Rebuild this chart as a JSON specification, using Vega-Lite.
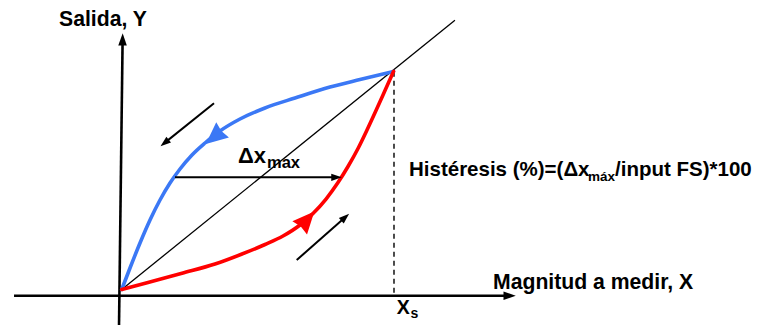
{
  "$schema": "https://vega.github.io/schema/vega-lite/v6.json",
  "width": 765,
  "height": 326,
  "padding": 0,
  "autosize": {"type": "none"},
  "background": "white",
  "config": {"view": {"stroke": null}},
  "datasets": {
    "paths": [
      {"id": "axisX", "o": 0, "x": -0.3962, "y": -0.0284},
      {"id": "axisX", "o": 1, "x": 1.4272, "y": -0.0284},
      {"id": "axisY", "o": 0, "x": -0.0099, "y": -0.1628},
      {"id": "axisY", "o": 1, "x": 0.0033, "y": 1.1472},
      {"id": "diag", "o": 0, "x": 0, "y": 0},
      {"id": "diag", "o": 1, "x": 1.226, "y": 1.235},
      {"id": "xs", "o": 0, "x": 1.0018, "y": 0.9991},
      {"id": "xs", "o": 1, "x": 1.0018, "y": -0.0284},
      {"id": "blue", "o": 0, "x": 0, "y": 0},
      {"id": "blue", "o": 1, "x": 0.0305, "y": 0.0986},
      {"id": "blue", "o": 2, "x": 0.0673, "y": 0.2133},
      {"id": "blue", "o": 3, "x": 0.1041, "y": 0.3188},
      {"id": "blue", "o": 4, "x": 0.1409, "y": 0.4106},
      {"id": "blue", "o": 5, "x": 0.1777, "y": 0.4885},
      {"id": "blue", "o": 6, "x": 0.2145, "y": 0.5528},
      {"id": "blue", "o": 7, "x": 0.2586, "y": 0.617},
      {"id": "blue", "o": 8, "x": 0.3065, "y": 0.672},
      {"id": "blue", "o": 9, "x": 0.3617, "y": 0.7271},
      {"id": "blue", "o": 10, "x": 0.4352, "y": 0.7821},
      {"id": "blue", "o": 11, "x": 0.5272, "y": 0.8326},
      {"id": "blue", "o": 12, "x": 0.6376, "y": 0.8784},
      {"id": "blue", "o": 13, "x": 0.7664, "y": 0.9289},
      {"id": "blue", "o": 14, "x": 0.8767, "y": 0.9633},
      {"id": "blue", "o": 15, "x": 1, "y": 1},
      {"id": "red", "o": 0, "x": 0, "y": 0},
      {"id": "red", "o": 1, "x": 0.0968, "y": 0.0326},
      {"id": "red", "o": 2, "x": 0.2219, "y": 0.0748},
      {"id": "red", "o": 3, "x": 0.3433, "y": 0.117},
      {"id": "red", "o": 4, "x": 0.4426, "y": 0.1628},
      {"id": "red", "o": 5, "x": 0.5272, "y": 0.2064},
      {"id": "red", "o": 6, "x": 0.5935, "y": 0.2454},
      {"id": "red", "o": 7, "x": 0.656, "y": 0.2959},
      {"id": "red", "o": 8, "x": 0.7038, "y": 0.3486},
      {"id": "red", "o": 9, "x": 0.7517, "y": 0.4151},
      {"id": "red", "o": 10, "x": 0.7958, "y": 0.4908},
      {"id": "red", "o": 11, "x": 0.8326, "y": 0.5642},
      {"id": "red", "o": 12, "x": 0.8694, "y": 0.6468},
      {"id": "red", "o": 13, "x": 0.9025, "y": 0.7317},
      {"id": "red", "o": 14, "x": 0.9356, "y": 0.8211},
      {"id": "red", "o": 15, "x": 0.9687, "y": 0.9128},
      {"id": "red", "o": 16, "x": 1, "y": 1},
      {"id": "dx", "o": 0, "x": 0.1961, "y": 0.5147},
      {"id": "dx", "o": 1, "x": 0.7903, "y": 0.5147},
      {"id": "down", "o": 0, "x": 0.3396, "y": 0.8541},
      {"id": "down", "o": 1, "x": 0.1578, "y": 0.6725},
      {"id": "up", "o": 0, "x": 0.6439, "y": 0.1353},
      {"id": "up", "o": 1, "x": 0.8223, "y": 0.3312}
    ],
    "heads": [
      {"kind": "blue", "x": 0.3403, "y": 0.7, "dir": 230},
      {"kind": "red", "x": 0.6818, "y": 0.3202, "dir": 42},
      {"kind": "small", "x": 0.1578, "y": 0.6725, "dir": 231.3},
      {"kind": "small", "x": 0.8223, "y": 0.3312, "dir": 48.6},
      {"kind": "small", "x": 0.7903, "y": 0.5147, "dir": 90},
      {"kind": "axis", "x": 1.4272, "y": -0.0284, "dir": 90},
      {"kind": "axis", "x": 0.0033, "y": 1.1472, "dir": 0.7}
    ],
    "labels": [
      {"role": "axis", "text": "Salida, Y", "x": -0.2307, "y": 1.2087},
      {"role": "axis", "text": "Magnitud a medir, X", "x": 1.3661, "y": 0.0009},
      {"role": "formula", "text": "Histéresis (%)=(Δx", "x": 1.057, "y": 0.5206},
      {"role": "formulaSub", "text": "máx", "x": 1.7156, "y": 0.4977},
      {"role": "formula", "text": "/input FS)*100", "x": 1.8149, "y": 0.5206},
      {"role": "delta", "text": "Δx", "x": 0.4279, "y": 0.5803},
      {"role": "deltaSub", "text": "max", "x": 0.5346, "y": 0.5573},
      {"role": "xs", "text": "X", "x": 1.0118, "y": -0.1138},
      {"role": "xsSub", "text": "s", "x": 1.0625, "y": -0.1307}
    ]
  },
  "encoding": {
    "x": {"field": "x", "type": "quantitative", "axis": null,
          "scale": {"domain": [-0.4478, 2.3668], "nice": false, "zero": false}},
    "y": {"field": "y", "type": "quantitative", "axis": null,
          "scale": {"domain": [-0.1674, 1.328], "nice": false, "zero": false}}
  },
  "layer": [
    {
      "data": {"name": "paths"},
      "transform": [{"filter": "datum.id === 'axisX' || datum.id === 'axisY'"}],
      "mark": {"type": "line", "color": "black", "strokeWidth": 2.6, "strokeCap": "butt"},
      "encoding": {"detail": {"field": "id"}, "order": {"field": "o", "type": "quantitative"}}
    },
    {
      "data": {"name": "paths"},
      "transform": [{"filter": "datum.id === 'diag'"}],
      "mark": {"type": "line", "color": "black", "strokeWidth": 1.3},
      "encoding": {"order": {"field": "o", "type": "quantitative"}}
    },
    {
      "data": {"name": "paths"},
      "transform": [{"filter": "datum.id === 'xs'"}],
      "mark": {"type": "line", "color": "black", "strokeWidth": 1.4, "strokeDash": [5, 4]},
      "encoding": {"order": {"field": "o", "type": "quantitative"}}
    },
    {
      "data": {"name": "paths"},
      "transform": [{"filter": "datum.id === 'blue' || datum.id === 'red'"}],
      "mark": {"type": "line", "strokeWidth": 3.6, "interpolate": "monotone", "strokeCap": "round"},
      "encoding": {
        "color": {"field": "id", "type": "nominal", "legend": null,
                  "scale": {"domain": ["blue", "red"], "range": ["#3b78f5", "#ff0000"]}},
        "order": {"field": "o", "type": "quantitative"}
      }
    },
    {
      "data": {"name": "paths"},
      "transform": [{"filter": "datum.id === 'dx' || datum.id === 'down' || datum.id === 'up'"}],
      "mark": {"type": "line", "color": "black", "strokeWidth": 2},
      "encoding": {"detail": {"field": "id"}, "order": {"field": "o", "type": "quantitative"}}
    },
    {
      "data": {"name": "heads"},
      "transform": [{"filter": "datum.kind === 'blue' || datum.kind === 'red'"}],
      "mark": {"type": "point", "shape": "M0,-1L0.9,1L0,0.85L-0.9,1Z", "size": 480, "filled": true, "opacity": 1, "strokeWidth": 0},
      "encoding": {
        "color": {"field": "kind", "type": "nominal", "legend": null,
                  "scale": {"domain": ["blue", "red"], "range": ["#3b78f5", "#ff0000"]}},
        "angle": {"field": "dir", "type": "quantitative", "scale": null}
      }
    },
    {
      "data": {"name": "heads"},
      "transform": [{"filter": "datum.kind === 'small'"}],
      "mark": {"type": "point", "shape": "M0,-1L0.7,1L-0.7,1Z", "size": 110, "filled": true, "opacity": 1, "color": "black", "strokeWidth": 0},
      "encoding": {"angle": {"field": "dir", "type": "quantitative", "scale": null}}
    },
    {
      "data": {"name": "heads"},
      "transform": [{"filter": "datum.kind === 'axis'"}],
      "mark": {"type": "point", "shape": "M0,-1L0.7,1L-0.7,1Z", "size": 150, "filled": true, "opacity": 1, "color": "black", "strokeWidth": 0},
      "encoding": {"angle": {"field": "dir", "type": "quantitative", "scale": null}}
    },
    {
      "data": {"name": "labels"},
      "transform": [{"filter": "datum.role === 'axis'"}],
      "mark": {"type": "text", "font": "Liberation Sans", "fontWeight": "bold", "fontSize": 21.2, "color": "black", "align": "left", "baseline": "alphabetic"},
      "encoding": {"text": {"field": "text"}}
    },
    {
      "data": {"name": "labels"},
      "transform": [{"filter": "datum.role === 'formula'"}],
      "mark": {"type": "text", "font": "Liberation Sans", "fontWeight": "bold", "fontSize": 20.5, "color": "black", "align": "left", "baseline": "alphabetic"},
      "encoding": {"text": {"field": "text"}}
    },
    {
      "data": {"name": "labels"},
      "transform": [{"filter": "datum.role === 'formulaSub'"}],
      "mark": {"type": "text", "font": "Liberation Sans", "fontWeight": "bold", "fontSize": 13.5, "color": "black", "align": "left", "baseline": "alphabetic"},
      "encoding": {"text": {"field": "text"}}
    },
    {
      "data": {"name": "labels"},
      "transform": [{"filter": "datum.role === 'delta'"}],
      "mark": {"type": "text", "font": "Liberation Sans", "fontWeight": "bold", "fontSize": 22, "color": "black", "align": "left", "baseline": "alphabetic"},
      "encoding": {"text": {"field": "text"}}
    },
    {
      "data": {"name": "labels"},
      "transform": [{"filter": "datum.role === 'deltaSub'"}],
      "mark": {"type": "text", "font": "Liberation Sans", "fontWeight": "bold", "fontSize": 16.5, "color": "black", "align": "left", "baseline": "alphabetic"},
      "encoding": {"text": {"field": "text"}}
    },
    {
      "data": {"name": "labels"},
      "transform": [{"filter": "datum.role === 'xs'"}],
      "mark": {"type": "text", "font": "Liberation Sans", "fontWeight": "bold", "fontSize": 19.5, "color": "black", "align": "left", "baseline": "alphabetic"},
      "encoding": {"text": {"field": "text"}}
    },
    {
      "data": {"name": "labels"},
      "transform": [{"filter": "datum.role === 'xsSub'"}],
      "mark": {"type": "text", "font": "Liberation Sans", "fontWeight": "bold", "fontSize": 14, "color": "black", "align": "left", "baseline": "alphabetic"},
      "encoding": {"text": {"field": "text"}}
    }
  ]
}
